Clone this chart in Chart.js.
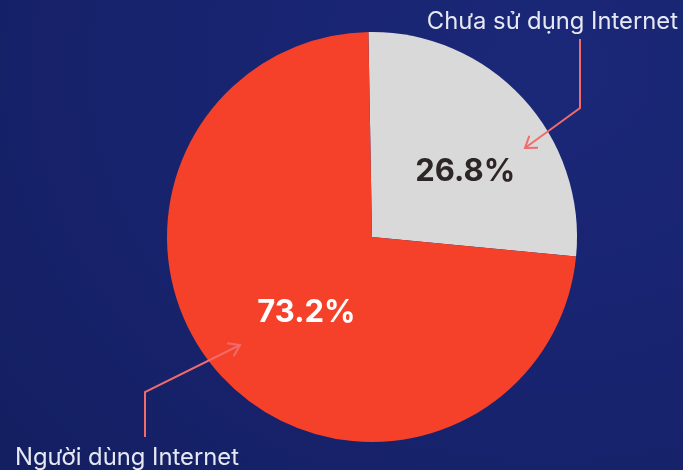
<!DOCTYPE html>
<html>
<head>
<meta charset="utf-8">
<script src="https://cdn.jsdelivr.net/npm/chart.js@4/dist/chart.umd.min.js"></script>
<style>
  html, body { margin: 0; padding: 0; }
  body {
    width: 683px; height: 470px; overflow: hidden;
    background: radial-gradient(ellipse 700px 600px at 80% 15%, #1b2878 0%, #182470 45%, #141f62 100%);
  }
  #wrap { position: relative; width: 683px; height: 470px; }
</style>
</head>
<body>
<div id="wrap"><canvas id="pie"></canvas></div>
<script>
var labels = ["Chưa sử dụng Internet", "Người dùng Internet"];
var values = [26.8, 73.2];
var colors = ["#d9d9d9", "#f5412a"];

// percentage text + callout labels with arrows
var calloutPlugin = {
    id: 'callouts',
    afterDatasetsDraw: function(chart) {
        var ctx = chart.ctx;
        var arcs = chart.getDatasetMeta(0).data;
        var cx = arcs[0].x, cy = arcs[0].y, R = arcs[0].outerRadius;
        ctx.save();
        ctx.textAlign = 'center';
        ctx.textBaseline = 'middle';
        ctx.font = 'bold 31px Inter';
        ctx.fillStyle = '#2e2626';
        ctx.fillText(values[0].toFixed(1) + '%', cx + 0.455 * R, cy - 0.32 * R);
        ctx.fillStyle = '#ffffff';
        ctx.fillText(values[1].toFixed(1) + '%', cx - 0.32 * R, cy + 0.37 * R);

        ctx.font = '23.8px Inter';
        ctx.fillStyle = '#e6e8f2';
        ctx.textBaseline = 'alphabetic';
        ctx.textAlign = 'right';
        ctx.fillText(labels[0], 678, 29);
        ctx.textAlign = 'left';
        ctx.fillText(labels[1], 15, 465);

        ctx.strokeStyle = '#f26b6b';
        ctx.lineWidth = 2;
        arrow(ctx, [[580, 39], [580, 108], [525, 148]]);
        arrow(ctx, [[145, 437], [145, 392], [240, 345]]);
        ctx.restore();
    }
};

function arrow(ctx, pts) {
    ctx.beginPath();
    ctx.moveTo(pts[0][0], pts[0][1]);
    for (var i = 1; i < pts.length; i++) ctx.lineTo(pts[i][0], pts[i][1]);
    ctx.stroke();
    var a = pts[pts.length - 2], b = pts[pts.length - 1];
    var ang = Math.atan2(b[1] - a[1], b[0] - a[0]);
    var len = 13;
    ctx.beginPath();
    ctx.moveTo(b[0] - len * Math.cos(ang - 0.6), b[1] - len * Math.sin(ang - 0.6));
    ctx.lineTo(b[0], b[1]);
    ctx.lineTo(b[0] - len * Math.cos(ang + 0.6), b[1] - len * Math.sin(ang + 0.6));
    ctx.stroke();
}

new Chart(document.getElementById("pie"), {
    type: 'pie',
    data: {
        labels: labels,
        datasets: [{
            data: values,
            backgroundColor: colors,
            borderWidth: 0
        }]
    },
    options: {
        responsive: true,
        maintainAspectRatio: false,
        animation: false,
        rotation: -1,
        layout: { padding: { top: 32, bottom: 28, left: 167, right: 106 } },
        plugins: {
            legend: { display: false },
            tooltip: { enabled: false }
        }
    },
    plugins: [calloutPlugin]
});
</script>
</body>
</html>
